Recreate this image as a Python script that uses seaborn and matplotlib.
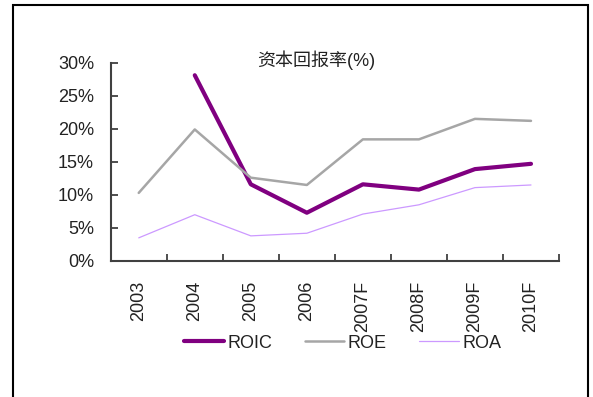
import numpy as np
import pandas as pd
import seaborn as sns
import matplotlib.pyplot as plt
from matplotlib.lines import Line2D
from matplotlib.patches import Rectangle

years = ["2003", "2004", "2005", "2006", "2007F", "2008F", "2009F", "2010F"]
roic = [np.nan, 28.1, 11.6, 7.3, 11.6, 10.8, 13.9, 14.7]
roe = [10.3, 19.9, 12.6, 11.5, 18.4, 18.4, 21.5, 21.2]
roa = [3.5, 7.0, 3.8, 4.2, 7.1, 8.5, 11.1, 11.5]
series_names = ["ROIC", "ROE", "ROA"]
yticks = [0, 5, 10, 15, 20, 25, 30]

colors = {"ROIC": "#800080", "ROE": "#a6a6a6", "ROA": "#cc99ff"}
widths = {"ROIC": 3.0, "ROE": 1.8, "ROA": 0.9}

df = pd.DataFrame({
    "year": years * 3,
    "value": roic + roe + roa,
    "series": ["ROIC"] * 8 + ["ROE"] * 8 + ["ROA"] * 8,
})

sns.set_theme(style="white")
plt.rcParams["font.family"] = ["Liberation Sans", "Noto Sans CJK SC"]
txt = "#222222"

fig = plt.figure(figsize=(5.93, 3.97), dpi=100)
ax = fig.add_axes([0.1867, 0.3426, 0.756, 0.4995])

sns.lineplot(data=df, x="year", y="value", hue="series", size="series",
             palette=colors, sizes=widths, hue_order=series_names,
             size_order=series_names, sort=False, legend=False, ax=ax)

ax.set_xlim(-0.5, 7.5)
ax.set_ylim(0, 30)
ax.set_xticks(range(len(years)))
ax.set_xticklabels(years, rotation=90, fontsize=13, color=txt)
ax.set_xticks(np.arange(0.5, 8, 1), minor=True)
ax.set_yticks(yticks)
ax.set_yticklabels([f"{v}%" for v in yticks], fontsize=13, color=txt)
ax.tick_params(axis="x", which="major", length=0, pad=14)
ax.tick_params(axis="x", which="minor", direction="in", length=5, width=1.3, color="#404040", bottom=True)
ax.tick_params(axis="y", direction="in", length=5, width=1.3, color="#404040", left=True, pad=12)
ax.set_xlabel("")
ax.set_ylabel("")
for s in ["top", "right"]:
    ax.spines[s].set_visible(False)
for s in ["left", "bottom"]:
    ax.spines[s].set_color("#404040")
    ax.spines[s].set_linewidth(1.5)

fig.text(316 / 593, 1 - 60 / 397, "资本回报率(%)", ha="center", va="center", fontsize=13, color=txt)

handles = [Line2D([], [], color=colors[n], lw=widths[n]) for n in series_names]
fig.legend(handles, series_names, loc="center", bbox_to_anchor=(0.578, 0.136), ncol=3,
           frameon=False, fontsize=13, handlelength=2.2, handletextpad=0.2,
           columnspacing=1.8, labelcolor=txt)

fig.patches.append(Rectangle((13 / 593, -0.1), 575 / 593, 1.1 - 5 / 397, transform=fig.transFigure,
                             fill=False, edgecolor="black", linewidth=1.5))

fig.savefig("out.png", dpi=100)
